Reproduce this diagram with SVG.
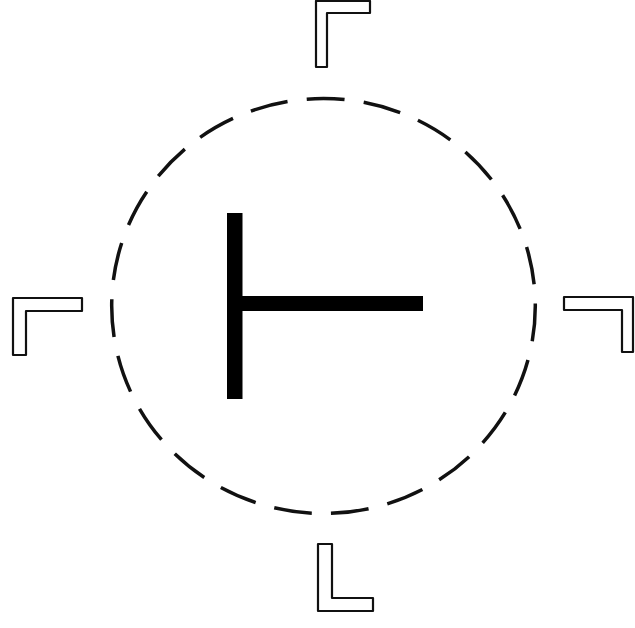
<svg xmlns="http://www.w3.org/2000/svg" width="635" height="628" viewBox="0 0 635 628">
<style>
.bracket{fill:#fff;stroke:#111;stroke-width:2.2;stroke-linejoin:round}
.bar{fill:#000}
.ring{fill:none;stroke:#111;stroke-width:3.5;stroke-linecap:butt}
</style>
<rect width="635" height="628" fill="#fff"/>
<g id="circle">
<ellipse class="ring" cx="323.5" cy="306" rx="211.8" ry="207.5" pathLength="1000" stroke-dasharray="28.8 14.678" stroke-dashoffset="1.9"/>
</g>
<g id="tee">
<rect class="bar" x="227" y="213" width="15.5" height="186"/>
<rect class="bar" x="240" y="296" width="183" height="15"/>
</g>
<g id="bracket-top">
<polygon class="bracket" points="316,1 370,1 370,13 327,13 327,67 316,67"/>
</g>
<g id="bracket-left">
<polygon class="bracket" points="13,298 82,298 82,311 26,311 26,355 13,355"/>
</g>
<g id="bracket-right">
<polygon class="bracket" points="564,297 633,297 633,352 622,352 622,310 564,310"/>
</g>
<g id="bracket-bottom">
<polygon class="bracket" points="318,544 332,544 332,598 373,598 373,611 318,611"/>
</g>
</svg>
